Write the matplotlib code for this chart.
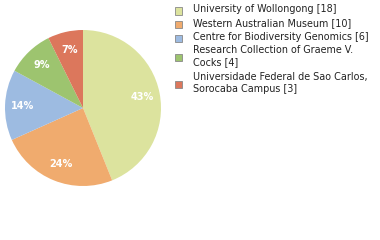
import matplotlib
matplotlib.use('Agg')
import matplotlib.pyplot as plt
from matplotlib.patches import Rectangle

# Data
labels = ['University of Wollongong [18]', 'Western Australian Museum [10]',
          'Centre for Biodiversity Genomics [6]', 'Research Collection of Graeme V.\nCocks [4]',
          'Universidade Federal de Sao Carlos,\nSorocaba Campus [3]']
counts = [18, 10, 6, 4, 3]
colors = ['#dce39e', '#f0ab6e', '#9dbbe1', '#9dc46f', '#dc775c']

W, H = 380, 240
fig = plt.figure(figsize=(W / 100, H / 100), dpi=100)

# pie area: center (83,108) px, radius 78 px
ax = fig.add_axes([5 / W, (H - 186) / H, 156 / W, 156 / H])
wedges, texts, autotexts = ax.pie(counts, colors=colors, startangle=90, counterclock=False,
                                  autopct=lambda p: '%d%%' % int(p), pctdistance=0.77,
                                  wedgeprops={'linewidth': 0})
for t in autotexts:
    t.set_color('white')
    t.set_fontsize(7)
    t.set_fontweight('bold')
ax.set_xlim(-1, 1)
ax.set_ylim(-1, 1)
ax.set_aspect('equal')
ax.axis('off')

# legend drawn by hand
line_h = 12
y = 11
for lab, col in zip(labels, colors):
    nlines = lab.count('\n') + 1
    sq_c = y + (nlines - 1) * line_h / 2
    fig.patches.append(Rectangle((175 / W, 1 - (sq_c + 3.5) / H), 7 / W, 7 / H,
                                 transform=fig.transFigure, facecolor=col,
                                 edgecolor='#888888', linewidth=0.6))
    fig.text(193 / W, 1 - (y - 6.5) / H, lab, fontsize=6.95, va='top', ha='left',
             color='#222222', linespacing=1.22)
    y += line_h * nlines + 1.5 + (nlines - 1) * 1.5

fig.savefig('out.png', dpi=100)
